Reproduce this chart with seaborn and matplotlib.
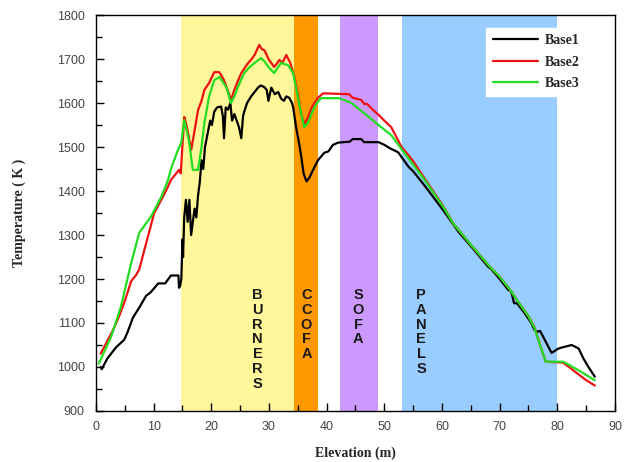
import numpy as np
import pandas as pd
import matplotlib
matplotlib.use("Agg")
import matplotlib.pyplot as plt
import seaborn as sns
from matplotlib.ticker import MultipleLocator

# ---- data ----
x1 = [0.8, 1.0, 2.0, 2.6, 3.5, 4.9, 5.5, 6.4, 7.5, 8.7, 9.5, 10.8, 12.0, 13.0, 14.3, 14.4, 14.6, 14.8,
      15.0, 15.1, 15.3, 15.6, 15.9, 16.2, 16.5, 16.8, 17.1, 17.4, 17.7, 18.0, 18.3, 18.6, 18.9, 19.2,
      19.5, 19.8, 20.1, 20.5, 21.0, 21.7, 22.0, 22.2, 22.5, 22.9, 23.3, 23.6, 24.0, 24.4, 24.8, 25.2,
      25.5, 25.7, 26.2, 26.9, 27.5, 28.1, 28.6, 29.2, 29.6, 29.9, 30.4, 31.0, 31.6, 32.1, 32.6, 33.0,
      33.5, 34.0, 34.2, 34.7, 35.2, 35.6, 36.0, 36.5, 37.0, 37.8, 38.5, 39.6, 40.3, 41.1, 42.0, 44.0,
      44.5, 46.0, 46.5, 49.0, 50.0, 51.0, 52.4, 53.0, 54.2, 55.0, 57.0, 60.0, 63.0, 65.0, 68.0, 68.6,
      70.0, 71.5, 72.0, 72.5, 73.0, 74.3, 75.5, 76.0, 76.5, 77.0, 77.5, 79.0, 80.2, 81.0, 82.5, 83.7,
      84.5, 85.4, 86.5]
base1 = [1000, 995, 1020, 1030, 1045, 1062, 1080, 1112, 1135, 1162, 1170, 1190, 1190, 1208, 1208, 1180, 1185, 1200,
         1290, 1250, 1340, 1380, 1330, 1380, 1300, 1330, 1360, 1340, 1390, 1420, 1470, 1450, 1500, 1520,
         1540, 1560, 1550, 1580, 1590, 1592, 1570, 1520, 1590, 1585, 1600, 1560, 1575, 1560, 1545, 1520,
         1570, 1580, 1600, 1615, 1625, 1635, 1640, 1636, 1630, 1605, 1635, 1620, 1625, 1610, 1605, 1615,
         1612, 1600, 1590, 1545, 1510, 1478, 1440, 1422, 1430, 1452, 1470, 1487, 1490, 1505, 1510, 1512,
         1518, 1518, 1511, 1511, 1505, 1497, 1488, 1477, 1455, 1445, 1412, 1360, 1305, 1275, 1228, 1222,
         1200, 1175, 1172, 1145, 1145, 1123, 1100, 1085, 1080, 1082, 1070, 1032, 1042, 1045, 1050, 1042,
         1020, 1000, 978]

x2 = [0.8, 2.0, 3.0, 4.0, 5.0, 6.1, 7.0, 7.5, 9.0, 10.1, 11.0, 12.2, 13.0, 14.4, 14.7, 15.3, 15.6, 16.0,
      16.5, 17.0, 17.7, 18.3, 18.8, 19.6, 20.5, 21.4, 22.2, 22.8, 23.4, 24.0, 24.6, 25.2, 25.8, 26.4,
      27.0, 27.5, 28.3, 28.8, 29.2, 30.0, 30.9, 31.4, 31.8, 32.3, 33.0, 33.7, 34.4, 35.0, 35.5, 36.1,
      36.8, 37.5, 38.5, 39.4, 43.9, 44.5, 46.0, 46.5, 47.0, 48.0, 49.0, 50.0, 51.2, 52.0, 53.0, 55.0,
      57.0, 60.0, 62.0, 65.0, 68.0, 70.0, 72.0, 73.0, 75.0, 76.0, 77.0, 78.0, 81.0, 82.0, 83.0, 84.0,
      85.0, 86.5]
base2 = [1030, 1060, 1085, 1115, 1150, 1195, 1210, 1222, 1296, 1350, 1372, 1402, 1425, 1448, 1440, 1568, 1555, 1530,
         1493, 1530, 1584, 1605, 1630, 1645, 1670, 1670, 1652, 1630, 1607, 1630, 1650, 1668, 1680, 1691,
         1700, 1709, 1732, 1722, 1720, 1698, 1682, 1690, 1698, 1691, 1709, 1691, 1659, 1620, 1580, 1552,
         1568, 1592, 1612, 1622, 1620, 1612, 1607, 1598, 1598, 1585, 1573, 1560, 1545, 1525, 1500, 1468,
         1428, 1370, 1325, 1278, 1232, 1205, 1172, 1152, 1115, 1092, 1050, 1012, 1010, 1000, 990, 980,
         970, 958]

x3 = [0.5, 2.6, 4.3, 6.1, 7.5, 9.5, 11.3, 12.5, 13.0, 14.2, 14.8, 15.3, 16.1, 16.8, 17.7, 18.3, 18.8,
      19.6, 20.5, 21.4, 22.6, 23.4, 24.0, 24.6, 25.7, 26.5, 27.5, 28.6, 29.2, 29.9, 30.9, 31.5, 32.1,
      33.3, 34.2, 35.2, 36.1, 36.8, 37.5, 38.2, 39.0, 42.2, 44.3, 46.5, 49.0, 51.2, 53.5, 55.0, 57.0,
      60.0, 62.0, 65.0, 68.0, 70.0, 72.0, 73.0, 75.0, 76.0, 77.0, 78.0, 81.0, 82.0, 84.0, 86.5]
base3 = [1008, 1068, 1136, 1236, 1305, 1341, 1386, 1425, 1450, 1493, 1510, 1561, 1516, 1448, 1448, 1500, 1555,
         1614, 1652, 1659, 1636, 1600, 1615, 1636, 1668, 1680, 1691, 1702, 1695, 1682, 1668, 1680, 1691,
         1686, 1668, 1600, 1545, 1555, 1580, 1598, 1611, 1611, 1600, 1577, 1550, 1527, 1486, 1460, 1425,
         1368, 1325, 1278, 1232, 1205, 1172, 1152, 1115, 1090, 1050, 1012, 1012, 1005, 990, 970]

zones = ["BURNERS", "CCOFA", "SOFA", "PANELS"]
zone_start = [14.8, 34.4, 42.4, 53.0]
zone_end = [34.4, 38.5, 48.9, 80.0]
zone_colors = ["#fff799", "#ff9900", "#cc99ff", "#99ccff"]
zone_label_x = [28.0, 36.5, 45.5, 56.4]

series_names = ["Base1", "Base2", "Base3"]
series_colors = ["#000000", "#ee1111", "#22dd22"]

# ---- plot ----
sns.set_style("white")
plt.rcParams["font.family"] = ["Liberation Sans", "DejaVu Sans"]

fig = plt.figure(figsize=(6.29, 4.62), dpi=100)
ax = fig.add_axes([0.1526, 0.1104, 0.8251, 0.8571])

for s, e, c in zip(zone_start, zone_end, zone_colors):
    ax.axvspan(s, e, color=c, zorder=0, lw=0)

for lab, lx in zip(zones, zone_label_x):
    ax.text(lx, 1180, "\n".join(lab), ha="center", va="top", fontsize=10.5,
            fontweight="bold", color="#1a1a1a", linespacing=1.08, zorder=3)

frames = []
for name, xs, ys in zip(series_names, [x1, x2, x3], [base1, base2, base3]):
    frames.append(pd.DataFrame({"Elevation": xs, "Temperature": ys, "Series": name}))
df = pd.concat(frames, ignore_index=True)

sns.lineplot(data=df, x="Elevation", y="Temperature", hue="Series",
             palette=dict(zip(series_names, series_colors)), estimator=None,
             sort=False, lw=1.6, ax=ax, zorder=4)

ax.set_xlim(0, 90)
ax.set_ylim(900, 1800)
ax.xaxis.set_major_locator(MultipleLocator(10))
ax.xaxis.set_minor_locator(MultipleLocator(5))
ax.yaxis.set_major_locator(MultipleLocator(100))
ax.yaxis.set_minor_locator(MultipleLocator(50))
ax.tick_params(which="both", direction="in", top=False, right=False,
               bottom=True, left=True, colors="#000000", labelcolor="#444444",
               labelsize=9)
ax.tick_params(which="major", length=6, width=1)
ax.tick_params(which="minor", length=4, width=1)
ax.tick_params(axis="x", which="major", pad=7)
ax.tick_params(axis="y", which="major", pad=8)
for sp in ax.spines.values():
    sp.set_color("#000000")
    sp.set_linewidth(1)

ax.set_xlabel("Elevation (m)", family=["Liberation Serif", "DejaVu Serif"],
              fontweight="bold", fontsize=10, labelpad=10)
ax.set_ylabel("Temperature ( K )", family=["Liberation Serif", "DejaVu Serif"],
              fontweight="bold", fontsize=10, labelpad=22)

leg = ax.legend(loc="upper left", bbox_to_anchor=(0.752, 0.968), borderaxespad=0,
                frameon=True, fancybox=False, handlelength=3.3, handletextpad=0.5,
                labelspacing=0.62, borderpad=0.45,
                prop={"family": ["Liberation Serif", "DejaVu Serif"], "weight": "bold", "size": 10})
leg.get_frame().set_facecolor("white")
leg.get_frame().set_edgecolor("white")
leg.get_frame().set_alpha(1)
leg.set_title(None)

fig.savefig("out.png", dpi=100)
